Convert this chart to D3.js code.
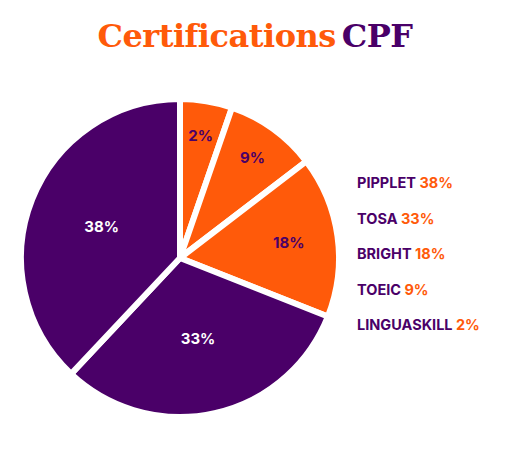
<!DOCTYPE html>
<html>
<head>
<meta charset="utf-8">
<script src="https://cdn.jsdelivr.net/npm/d3@7"></script>
<style>
  body { margin: 0; background: #fff; }
  text { font-family: Inter, "DejaVu Sans", sans-serif; font-weight: 700; }
</style>
</head>
<body>
<svg width="510" height="464"></svg>
<script>
const names = ["LINGUASKILL", "TOEIC", "BRIGHT", "TOSA", "PIPPLET"]
const labels = ["2%", "9%", "18%", "33%", "38%"]
// slice sizes as drawn in the picture (they do not follow the labels exactly)
const shares = [5.3, 9.3, 16.4, 31, 38]
const legendOrder = [4, 3, 2, 1, 0]

const PURPLE = "#4a0068"
const ORANGE = "#ff5a0a"
const sliceColors = [ORANGE, ORANGE, ORANGE, PURPLE, PURPLE]
const textColors = [PURPLE, PURPLE, PURPLE, "#fff", "#fff"]
const labelRadius = [0.78, 0.78, 0.69, 0.52, 0.53]

const svg = d3.select("svg")

const title = svg.append("text")
  .attr("x", 255).attr("y", 47)
  .attr("text-anchor", "middle")
  .style("font-family", "'DejaVu Serif', serif")
  .style("font-size", "32px")
  .style("font-weight", "900")
  .style("letter-spacing", "-0.5px")
title.append("tspan").attr("fill", ORANGE).text("Certifications")
title.append("tspan").attr("fill", PURPLE).attr("dx", 6).text("CPF")

const [cx, cy, r] = [180, 258, 159]
const pie = d3.pie().sort(null).value((d) => d)
const arcs = pie(shares)
const arc = d3.arc().innerRadius(0).outerRadius(r)

const labelPos = (d, i) => {
  const a = (d.startAngle + d.endAngle) / 2
  const lr = labelRadius[i] * r
  return [Math.sin(a) * lr, -Math.cos(a) * lr]
}

const g = svg.append("g").attr("transform", `translate(${cx},${cy})`)
g.selectAll("path")
  .data(arcs)
  .enter()
  .append("path")
  .attr("d", arc)
  .attr("fill", (d, i) => sliceColors[i])
  .attr("stroke", "#fff")
  .attr("stroke-width", 6)
  .attr("stroke-linejoin", "round")

g.selectAll("text.pct")
  .data(arcs)
  .enter()
  .append("text")
  .classed("pct", true)
  .attr("transform", (d, i) => `translate(${labelPos(d, i)})`)
  .attr("text-anchor", "middle")
  .attr("dy", "0.35em")
  .attr("fill", (d, i) => textColors[i])
  .style("font-size", "15px")
  .text((d, i) => labels[i])

const legendY = d3.scalePoint().domain(d3.range(5)).range([183, 325])
const legend = svg.selectAll("text.legend")
  .data(legendOrder)
  .enter()
  .append("text")
  .classed("legend", true)
  .attr("x", 357)
  .attr("y", (d, i) => legendY(i))
  .attr("dy", "0.35em")
  .style("font-size", "14.5px")
legend.append("tspan").attr("fill", PURPLE).text((i) => names[i] + " ")
legend.append("tspan").attr("fill", ORANGE).text((i) => labels[i])
</script>
</body>
</html>
